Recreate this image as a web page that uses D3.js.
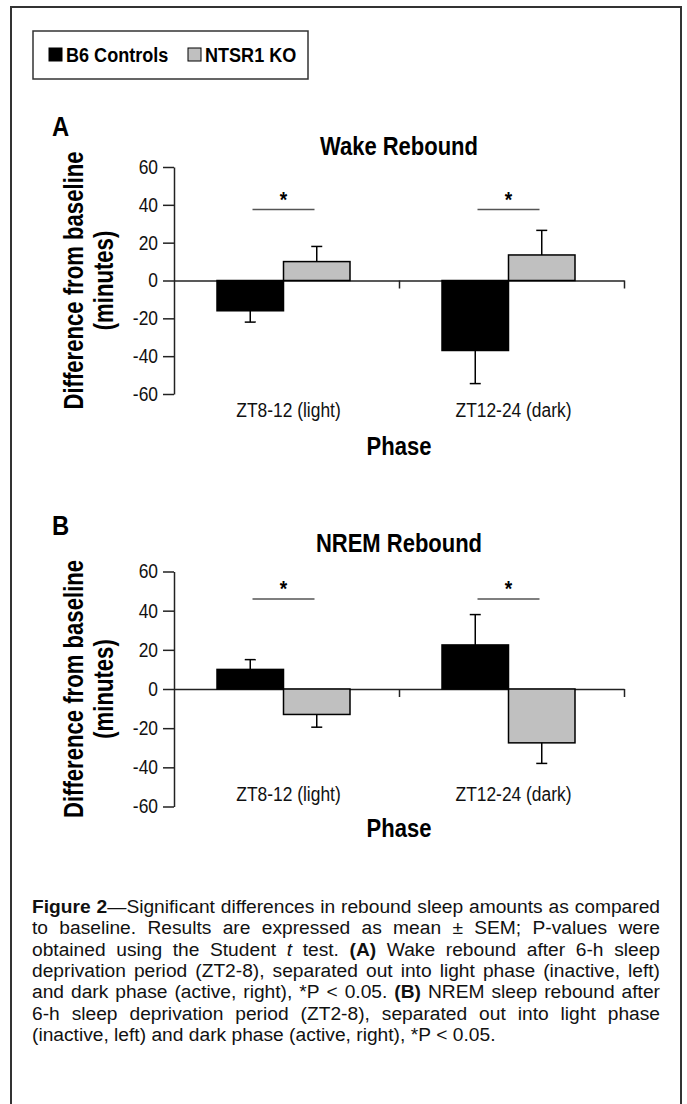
<!DOCTYPE html>
<html>
<head>
<meta charset="utf-8">
<script src="https://cdn.jsdelivr.net/npm/d3@7"></script>
<style>
  body { margin: 0; background: #fff; }
  svg { display: block; }
</style>
</head>
<body>
<div id="chart"></div>
<script>
// ---- data ----
const phases = ["ZT8-12 (light)", "ZT12-24 (dark)"];
const groups = ["B6 Controls", "NTSR1 KO"];
const yTicks = [-60, -40, -20, 0, 20, 40, 60];

const wakeB6 = [-16, -37];
const wakeB6Sem = [6, 17.5];
const wakeKO = [10, 13.5];
const wakeKOSem = [8, 13];
const wakeSig = [37.5, 37.5];

const nremB6 = [10, 22.5];
const nremB6Sem = [5, 15.5];
const nremKO = [-13, -27.5];
const nremKOSem = [6.5, 10.5];
const nremSig = [46, 46];

const captionLines = [
  "**Figure 2**—Significant differences in rebound sleep amounts as compared",
  "to baseline. Results are expressed as mean ± SEM; P-values were",
  "obtained using the Student _t_ test. **(A)** Wake rebound after 6-h sleep",
  "deprivation period (ZT2-8), separated out into light phase (inactive, left)",
  "and dark phase (active, right), *P < 0.05. **(B)** NREM sleep rebound after",
  "6-h sleep deprivation period (ZT2-8), separated out into light phase",
  "(inactive, left) and dark phase (active, right), *P < 0.05."
];

const W = 687, H = 1104;
const FONT = '"Liberation Sans", Arial, Helvetica, sans-serif';
const colors = { "B6 Controls": "#000", "NTSR1 KO": "#c0c0c0" };

const svg = d3.select("#chart").append("svg")
    .attr("width", W).attr("height", H)
    .style("font-family", FONT);

// narrow-looking text: squeeze a normal face horizontally
function ntext(parent, x, y, str, size, o = {}) {
  const g = parent.append("g")
      .attr("transform", `translate(${x},${y})${o.rot ? ` rotate(${o.rot})` : ""} scale(${o.sx || 0.87},1)`);
  return g.append("text")
      .attr("font-size", size)
      .attr("font-weight", o.bold ? "bold" : null)
      .attr("text-anchor", o.anchor || "start")
      .attr("fill", o.fill || "#000")
      .text(str);
}

// outer frame (runs off the bottom)
svg.append("rect")
    .attr("x", 11).attr("y", 7).attr("width", 670).attr("height", H + 20)
    .attr("fill", "none").attr("stroke", "#333").attr("stroke-width", 2);

// legend
const leg = svg.append("g");
leg.append("rect").attr("x", 33).attr("y", 31).attr("width", 275).attr("height", 48)
    .attr("fill", "none").attr("stroke", "#333").attr("stroke-width", 1.5);
const legX = [49, 188];
groups.forEach((g, i) => {
  leg.append("rect").attr("x", legX[i]).attr("y", 48).attr("width", 13).attr("height", 13)
      .attr("fill", colors[g]).attr("stroke", "#000").attr("stroke-width", 1);
  ntext(leg, legX[i] + 17, 62, g, 21, { bold: true, sx: 0.86 });
});

const xBand = d3.scaleBand().domain(phases).range([174, 624]);
const xIn = d3.scaleBand().domain(groups).range([0, 133]);

function panel(cfg) {
  const g = svg.append("g");
  const y = d3.scaleLinear().domain([-60, 60]).range([cfg.bottom, cfg.top]);
  const y0 = y(0);

  ntext(g, 52, cfg.letterY, cfg.letter, 28, { bold: true, sx: 0.85 });
  ntext(g, 399, cfg.titleY, cfg.title, 25, { bold: true, anchor: "middle", sx: 0.88 });

  // y axis
  const sx = 0.87;
  const ya = g.append("g").attr("transform", "translate(174,0)")
      .call(d3.axisLeft(y).tickValues(yTicks).tickFormat(d => String(d))
        .tickSize(11).tickPadding(5).tickSizeOuter(0));
  ya.select(".domain").attr("stroke", "#222").attr("stroke-width", 1.5);
  ya.selectAll(".tick line").attr("stroke", "#222").attr("stroke-width", 1.5);
  ya.selectAll(".tick text").attr("font-size", 20).attr("font-family", FONT).attr("fill", "#111")
      .attr("x", -16 / sx).attr("transform", `scale(${sx},1)`);

  // zero line with category-boundary ticks
  const xb = d3.scaleLinear().domain([0, phases.length]).range(xBand.range());
  const xa = g.append("g").attr("transform", `translate(0,${y0})`)
      .call(d3.axisBottom(xb).tickValues(d3.range(1, phases.length + 1)).tickFormat("")
        .tickSize(8).tickSizeOuter(0));
  xa.select(".domain").attr("stroke", "#222").attr("stroke-width", 1.5);
  xa.selectAll(".tick line").attr("stroke", "#222").attr("stroke-width", 1.5);

  // bars
  const rows = [];
  phases.forEach((p, i) => groups.forEach((gr, j) =>
    rows.push({ p, gr, v: cfg.means[j][i], e: cfg.sems[j][i] })));
  const off = xBand.bandwidth() / 2 - xIn.range()[1] / 2 - 3;
  const bx = d => xBand(d.p) + off + xIn(d.gr);

  g.selectAll("rect.bar").data(rows).join("rect").attr("class", "bar")
      .attr("x", bx).attr("width", xIn.bandwidth())
      .attr("y", d => Math.min(y(d.v), y0))
      .attr("height", d => Math.abs(y(d.v) - y0))
      .attr("fill", d => colors[d.gr]).attr("stroke", "#000").attr("stroke-width", 1.5);

  // error bars, drawn away from zero only
  const cx = d => bx(d) + xIn.bandwidth() / 2;
  const tip = d => y(d.v + Math.sign(d.v) * d.e);
  g.selectAll("line.err").data(rows).join("line").attr("class", "err")
      .attr("x1", cx).attr("x2", cx).attr("y1", d => y(d.v)).attr("y2", tip)
      .attr("stroke", "#000").attr("stroke-width", 1.5);
  g.selectAll("line.cap").data(rows).join("line").attr("class", "cap")
      .attr("x1", d => cx(d) - 5.5).attr("x2", d => cx(d) + 5.5)
      .attr("y1", tip).attr("y2", tip)
      .attr("stroke", "#000").attr("stroke-width", 1.5);

  // significance markers
  phases.forEach((p, i) => {
    const c = xBand(p) + off + xIn.range()[1] / 2;
    const sy = y(cfg.sig[i]);
    g.append("line").attr("x1", c - 31).attr("x2", c + 31).attr("y1", sy).attr("y2", sy)
        .attr("stroke", "#555").attr("stroke-width", 1.5);
    ntext(g, c, sy - 3, "*", 22, { bold: true, anchor: "middle" });
  });

  // category labels
  phases.forEach(p =>
    ntext(g, xBand(p) + xBand.bandwidth() / 2 + 2, cfg.catY, p, 20, { anchor: "middle", fill: "#111" }));

  ntext(g, 399, cfg.phaseY, "Phase", 25, { bold: true, anchor: "middle", sx: 0.88 });

  const mid = (cfg.top + cfg.bottom) / 2;
  ntext(g, 83, mid, "Difference from baseline", 27, { bold: true, anchor: "middle", rot: -90, sx: 0.82 });
  ntext(g, 113, mid, "(minutes)", 27, { bold: true, anchor: "middle", rot: -90, sx: 0.82 });
}

panel({ letter: "A", title: "Wake Rebound", letterY: 136, titleY: 155,
        top: 167, bottom: 394, catY: 417, phaseY: 455,
        means: [wakeB6, wakeKO], sems: [wakeB6Sem, wakeKOSem], sig: wakeSig });
panel({ letter: "B", title: "NREM Rebound", letterY: 535, titleY: 552,
        top: 571.5, bottom: 806.5, catY: 801, phaseY: 837,
        means: [nremB6, nremKO], sems: [nremB6Sem, nremKOSem], sig: nremSig });

// caption, justified line by line
function parseLine(s) {
  const words = [[]];
  let bold = false, ital = false, buf = "";
  const flush = () => { if (buf) words[words.length - 1].push({ t: buf, b: bold, i: ital }); buf = ""; };
  for (let k = 0; k < s.length; k++) {
    if (s.startsWith("**", k)) { flush(); bold = !bold; k++; continue; }
    if (s[k] === "_") { flush(); ital = !ital; continue; }
    if (s[k] === " ") { flush(); words.push([]); continue; }
    buf += s[k];
  }
  flush();
  return words.filter(w => w.length);
}

const capSize = 19.2;
const cap = svg.append("g").attr("font-size", capSize).attr("fill", "#111");
const capL = 32, capR = 660, capTop = 913, capStep = 21.3;
captionLines.forEach((line, li) => {
  const words = parseLine(line);
  const nodes = words.map(w => {
    const t = cap.append("text").attr("y", capTop + li * capStep);
    w.forEach(seg => t.append("tspan")
        .attr("font-weight", seg.b ? "bold" : null)
        .attr("font-style", seg.i ? "italic" : null)
        .text(seg.t));
    return t;
  });
  const widths = nodes.map(n => n.node().getComputedTextLength());
  const total = d3.sum(widths);
  const last = li === captionLines.length - 1;
  const gap = last ? capSize * 0.278 : (capR - capL - total) / (words.length - 1);
  let x = capL;
  nodes.forEach((n, k) => { n.attr("x", x); x += widths[k] + gap; });
});
</script>
</body>
</html>
